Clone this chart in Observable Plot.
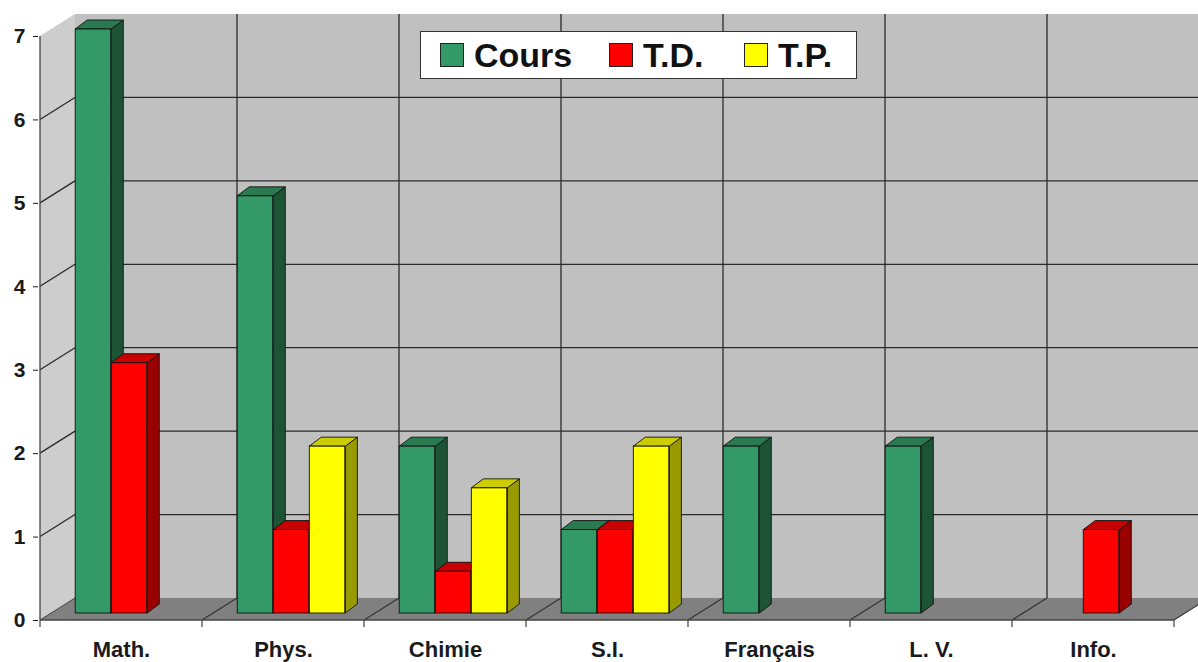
<!DOCTYPE html>
<html>
<head>
<meta charset="utf-8">
<script src="https://cdn.jsdelivr.net/npm/d3@7"></script>
<script src="https://cdn.jsdelivr.net/npm/@observablehq/plot@0.6"></script>
<style>
  html, body { margin: 0; padding: 0; background: #fff; }
  #wrap { position: relative; width: 1198px; height: 662px; overflow: hidden; }
  #legend {
    position: absolute; left: 420px; top: 31px; width: 435px; height: 46px;
    background: #fff; border: 1.5px solid #333; box-sizing: content-box;
    font-family: "Liberation Sans", Arial, sans-serif; font-weight: bold; font-size: 34px; color: #111;
  }
  #legend .item { position: absolute; top: 0; height: 46px; display: flex; align-items: center; }
  #legend .sw { width: 22px; height: 22px; border: 1px solid #222; margin-right: 10px; }
</style>
</head>
<body>
<div id="wrap"></div>
<script>
// ---- data ----
const categories = ["Math.", "Phys.", "Chimie", "S.I.", "Français", "L. V.", "Info."];
const seriesNames = ["Cours", "T.D.", "T.P."];
const cours = [7, 5, 2, 1, 2, 2, 0];
const td    = [3, 1, 0.5, 1, 0, 0, 1];
const tp    = [0, 2, 1.5, 2, 0, 0, 0];
const yTicks = [0, 1, 2, 3, 4, 5, 6, 7];

// colours: front, side, top
const palette = {
  "Cours": {front: "#339966", side: "#1d5436", top: "#2a7a50"},
  "T.D.":  {front: "#ff0000", side: "#990000", top: "#c80000"},
  "T.P.":  {front: "#ffff00", side: "#999900", top: "#cccc00"}
};

const seriesValues = [cours, td, tp];
const rows = [];
seriesNames.forEach((s, k) => categories.forEach((c, i) => rows.push({series: s, k, cat: c, value: seriesValues[k][i]})));

// ---- layout constants ----
const W = 1198, H = 662;
const mL = 38, mR = 22, mT = 36, mB = 42;
const bw = (W - mL - mR) / categories.length;
const slot = 36.05, outer = (bw - 3 * slot) / 2;
const depth = {dx: 35, dy: -22};      // wall depth
const barOff = {dx: 8, dy: -7};       // bar front plane offset
const barDepth = {dx: 12, dy: -9};    // bar thickness

function insetsFor(k) {
  return {left: outer + k * slot, right: bw - outer - (k + 1) * slot};
}

// walls, floor, gridlines (drawn behind bars)
function walls(index, scales) {
  const x = scales.x, y = scales.y;
  const X0 = x(categories[0]), X1 = x(categories[categories.length - 1]) + x.bandwidth();
  const y0 = y(0), yTop = y(d3.max(yTicks));
  const g = d3.create("svg:g");
  const pts = p => p.map(d => d.join(",")).join(" ");
  g.append("polygon").attr("points", pts([[X0 + depth.dx, y0 + depth.dy], [X0 + depth.dx, yTop + depth.dy], [X1 + depth.dx, yTop + depth.dy], [X1 + depth.dx, y0 + depth.dy]]))
    .attr("fill", "#c0c0c0");
  g.append("polygon").attr("points", pts([[X0, y0], [X0, yTop], [X0 + depth.dx, yTop + depth.dy], [X0 + depth.dx, y0 + depth.dy]]))
    .attr("fill", "#cdcdcd");
  g.append("polygon").attr("points", pts([[X0, y0], [X1, y0], [X1 + depth.dx, y0 + depth.dy], [X0 + depth.dx, y0 + depth.dy]]))
    .attr("fill", "#808080");
  const line = (a, b, w = 1.3, c = "#2a2a2a") => g.append("line").attr("x1", a[0]).attr("y1", a[1]).attr("x2", b[0]).attr("y2", b[1]).attr("stroke", c).attr("stroke-width", w);
  yTicks.filter(v => v > 0 && v < d3.max(yTicks)).forEach(v => {
    line([X0 + depth.dx, y(v) + depth.dy], [X1 + depth.dx, y(v) + depth.dy]);
    line([X0, y(v)], [X0 + depth.dx, y(v) + depth.dy]);
  });
  line([X0, y0], [X0 + depth.dx, y0 + depth.dy], 1, "#444");
  for (let i = 1; i <= categories.length; i++) {
    const xb = X0 + i * x.bandwidth();
    if (i < categories.length) line([xb + depth.dx, y0 + depth.dy], [xb + depth.dx, yTop + depth.dy]);
    line([xb, y0], [xb + depth.dx, y0 + depth.dy], 1.2, "#333");
  }
  line([X0, y0], [X0, yTop], 1.3, "#444");
  line([X0, y0], [X1, y0], 1.3, "#444");
  for (let i = 0; i <= categories.length; i++) {
    const xb = X0 + i * x.bandwidth();
    line([xb, y0], [xb, y0 + 7], 1.2, "#444");
  }
  return g.node();
}

// bar side and top faces
function barFaces(face) {
  return function(index, scales) {
    const x = scales.x, y = scales.y;
    const g = d3.create("svg:g");
    rows.filter(r => r.value > 0).forEach(r => {
      const ins = insetsFor(r.k);
      const x0 = x(r.cat) + ins.left + barOff.dx;
      const x1 = x0 + slot;
      const yt = y(r.value) + barOff.dy, yb = y(0) + barOff.dy;
      let p;
      if (face === "side") p = [[x1, yb], [x1, yt], [x1 + barDepth.dx, yt + barDepth.dy], [x1 + barDepth.dx, yb + barDepth.dy]];
      else p = [[x0, yt], [x1, yt], [x1 + barDepth.dx, yt + barDepth.dy], [x0 + barDepth.dx, yt + barDepth.dy]];
      g.append("polygon").attr("points", p.map(d => d.join(",")).join(" "))
        .attr("fill", palette[r.series][face]).attr("stroke", "#111").attr("stroke-width", 0.9).attr("stroke-linejoin", "round");
    });
    return g.node();
  };
}

const frontMarks = seriesNames.map((s, k) => {
  const ins = insetsFor(k);
  return Plot.barY(rows.filter(r => r.k === k && r.value > 0), {
    x: "cat", y: "value", fill: palette[s].front, stroke: "#111", strokeWidth: 0.9,
    insetLeft: ins.left, insetRight: ins.right, dx: barOff.dx, dy: barOff.dy
  });
});

const chart = Plot.plot({
  width: W, height: H,
  marginLeft: mL, marginRight: mR, marginTop: mT, marginBottom: mB,
  style: {fontFamily: "'Liberation Sans', Arial, sans-serif", fontWeight: "bold", fontSize: "21px", color: "#1a1a1a", background: "#fff", overflow: "hidden"},
  x: {domain: categories, padding: 0, axis: null},
  y: {domain: [0, 7], ticks: yTicks, tickFormat: d3.format("d"), tickSize: 5, tickPadding: 8, label: null},
  marks: [
    walls,
    barFaces("side"),
    barFaces("top"),
    ...frontMarks,
    Plot.text(categories, {x: d => d, y: () => 0, dy: 29, text: d => d, fontSize: 22, fontWeight: "bold", fill: "#1a1a1a"})
  ]
});

const wrap = document.getElementById("wrap");
wrap.appendChild(chart);

// legend
const legend = document.createElement("div");
legend.id = "legend";
const legendPos = [19, 188, 323];
seriesNames.forEach((s, k) => {
  const it = document.createElement("div");
  it.className = "item";
  it.style.left = legendPos[k] + "px";
  const sw = document.createElement("div");
  sw.className = "sw";
  sw.style.background = palette[s].front;
  const tx = document.createElement("span");
  tx.textContent = s;
  it.appendChild(sw); it.appendChild(tx);
  legend.appendChild(it);
});
wrap.appendChild(legend);
</script>
</body>
</html>
